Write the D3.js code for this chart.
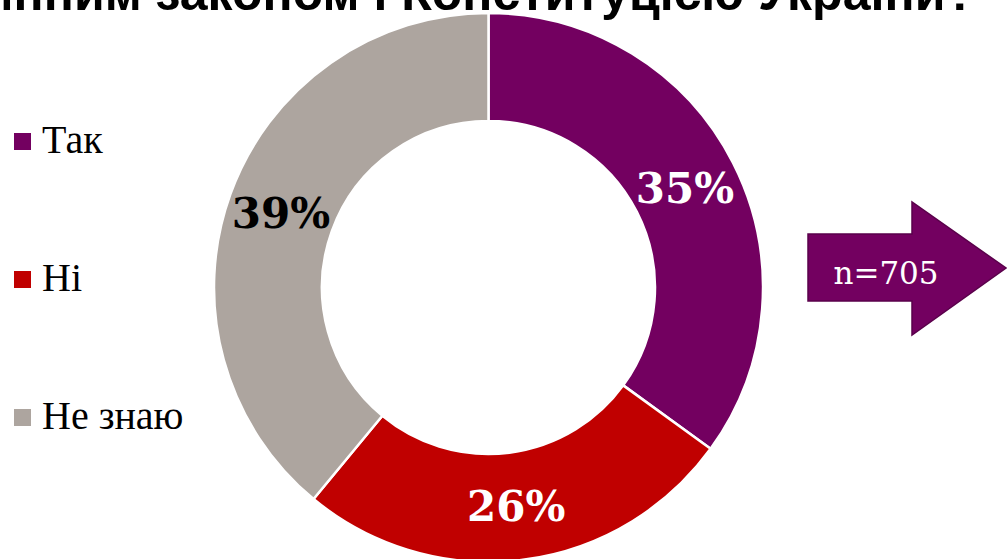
<!DOCTYPE html>
<html>
<head>
<meta charset="utf-8">
<script src="https://cdn.jsdelivr.net/npm/d3@7"></script>
<style>
  body { margin: 0; background: #fff; }
  svg { display: block; }
</style>
</head>
<body>
<svg id="chart" width="1007" height="559"></svg>
<script>
// data
var categories = ['Так', 'Ні', 'Не знаю'];
var values = [35, 26, 39];
var colors = ['#730060', '#C00000', '#ADA59F'];
var labelColors = ['#ffffff', '#ffffff', '#000000'];
var titleText = 'чинним законом і Конституцією України?';
var sampleText = 'n=705';

var svg = d3.select('#chart'),
  width = +svg.attr('width'),
  height = +svg.attr('height');

// title, cut off by the top edge like the slide
svg.append('text')
  .attr('x', 976)
  .attr('y', 10)
  .attr('text-anchor', 'end')
  .style('font-family', '"Liberation Sans", Arial, sans-serif')
  .style('font-weight', 'bold')
  .style('font-size', '50px')
  .text(titleText);

var cx = 488.5, cy = 287.5,
  outerR = 274.5, innerR = 166.5;

var color = d3.scaleOrdinal().domain(categories).range(colors);

var pie = d3.pie().value(d => d.value).sort(null);
var arc = d3.arc().innerRadius(innerR).outerRadius(outerR);

var data = categories.map((c, i) => ({ name: c, value: values[i], i: i }));

var g = svg.append('g')
  .attr('transform', 'translate(' + cx + ',' + cy + ')');

var slice = g.selectAll('.arc')
  .data(pie(data))
  .enter().append('g')
  .attr('class', 'arc');

slice.append('path')
  .attr('d', arc)
  .attr('fill', d => color(d.data.name))
  .attr('stroke', '#fff')
  .attr('stroke-width', 2.5);

slice.append('text')
  .attr('transform', d => 'translate(' + arc.centroid(d) + ')')
  .attr('text-anchor', 'middle')
  .attr('dy', '0.36em')
  .style('font-family', '"DejaVu Serif", Georgia, serif')
  .style('font-weight', 'bold')
  .style('font-size', '42px')
  .style('fill', d => labelColors[d.data.i])
  .text(d => d.data.value + '%');

// legend
var legend = svg.selectAll('.legend')
  .data(categories)
  .enter().append('g')
  .attr('class', 'legend')
  .attr('transform', (d, i) => 'translate(14,' + (133 + i * 138) + ')');

legend.append('rect')
  .attr('width', 17)
  .attr('height', 17)
  .attr('fill', d => color(d));

legend.append('text')
  .attr('x', 28)
  .attr('y', 20)
  .style('font-family', '"Liberation Serif", "Times New Roman", serif')
  .style('font-size', '40px')
  .text(d => d);

// sample size arrow
var arrow = svg.append('g');
arrow.append('path')
  .attr('d', 'M808,234 H912 V202 L1006,268 L912,335 V301 H808 Z')
  .attr('fill', '#730060')
  .attr('stroke', '#5a004b')
  .attr('stroke-width', 1.5);

arrow.append('text')
  .attr('x', 886)
  .attr('y', 284)
  .attr('text-anchor', 'middle')
  .style('font-family', '"DejaVu Serif", Georgia, serif')
  .style('font-size', '31px')
  .style('fill', '#fff')
  .text(sampleText);
</script>
</body>
</html>
